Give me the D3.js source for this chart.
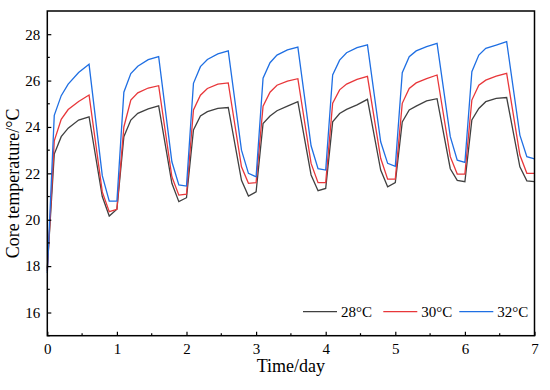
<!DOCTYPE html>
<html><head><meta charset="utf-8">
<script src="https://cdn.jsdelivr.net/npm/d3@7"></script>
<style>body{margin:0;background:#fff;} text{font-family:"Liberation Serif","Times New Roman",serif;}</style>
</head><body>
<svg id="c" width="550" height="390"></svg>
<script>
const times = [
  0,0.1,0.2,0.3,0.45,0.6,0.79,0.89,
  1,1.1,1.2,1.3,1.45,1.6,1.79,1.89,
  2,2.1,2.2,2.3,2.45,2.6,2.79,2.89,
  3,3.1,3.2,3.3,3.45,3.6,3.79,3.89,
  4,4.1,4.2,4.3,4.45,4.6,4.79,4.89,
  5,5.1,5.2,5.3,5.45,5.6,5.79,5.89,
  6,6.1,6.2,6.3,6.45,6.6,6.79,6.89,
  7];
const t28 = [
  17.9,22.83,23.58,23.95,24.3,24.44,21.0,20.16,
  20.45,23.58,24.3,24.59,24.78,24.91,21.57,20.78,
  20.95,23.87,24.47,24.66,24.8,24.84,21.7,21.02,
  21.2,24.15,24.47,24.7,24.9,25.09,21.93,21.25,
  21.35,24.22,24.58,24.76,24.95,25.19,22.14,21.42,
  21.6,24.22,24.73,24.9,25.12,25.22,22.2,21.7,
  21.64,24.3,24.8,25.09,25.23,25.27,22.28,21.68,
  21.64];
const t30 = [
  17.8,23.4,24.33,24.75,25.1,25.38,21.2,20.35,
  20.45,24.0,25.16,25.47,25.68,25.78,21.85,21.06,
  21.1,24.73,25.37,25.66,25.85,25.9,22.28,21.57,
  21.6,24.9,25.5,25.8,25.98,26.08,22.43,21.6,
  21.6,25.02,25.6,25.85,26.05,26.18,22.65,21.75,
  21.75,25.02,25.66,25.9,26.08,26.24,22.72,21.97,
  21.97,25.16,25.8,26.02,26.19,26.31,22.79,22.0,
  22.0];
const t32 = [
  17.7,24.5,25.35,25.85,26.35,26.7,21.9,20.8,
  20.8,25.5,26.3,26.62,26.9,27.03,22.5,21.5,
  21.45,25.88,26.6,26.91,27.15,27.28,23.0,22.0,
  21.85,26.1,26.77,27.1,27.32,27.44,23.19,22.2,
  22.14,26.24,26.88,27.2,27.42,27.54,23.36,22.43,
  22.3,26.34,27.03,27.28,27.46,27.6,23.58,22.57,
  22.47,26.38,27.1,27.39,27.53,27.68,23.65,22.72,
  22.62];
const seriesNames = ["28°C", "30°C", "32°C"];
const seriesColors = ["#404040", "#e8373a", "#1f6fe3"];
const seriesValues = [t28, t30, t32];
const xTicks = [0,1,2,3,4,5,6,7];
const yTicks = [16,18,20,22,24,26,28];

const svg = d3.select("#c");
const L = 47.3, R = 534.5, T = 11, B = 335.7;
const x = d3.scaleLinear().domain([0,7]).range([L,R]);
const y = d3.scaleLinear().domain([15,29]).range([B,T]);

const line = d3.line().x(d => x(d[0])).y(d => y(d[1]));
seriesValues.forEach((vals, i) => {
  svg.append("path")
    .datum(times.map((t, k) => [t, vals[k]]))
    .attr("d", line).attr("fill", "none")
    .attr("stroke", seriesColors[i]).attr("stroke-width", 1.3);
});

svg.append("rect").attr("x", L).attr("y", T).attr("width", R-L).attr("height", B-T)
  .attr("fill", "none").attr("stroke", "#000").attr("stroke-width", 1.5);

const xAxis = d3.axisBottom(x).tickValues(xTicks).tickFormat(d3.format("d")).tickSizeInner(-4).tickSizeOuter(0).tickPadding(8);
const gx = svg.append("g").attr("transform", `translate(0,${B})`).call(xAxis);
const yAxis = d3.axisLeft(y).tickValues(yTicks).tickFormat(d3.format("d")).tickSizeInner(-4).tickSizeOuter(0).tickPadding(7);
const gy = svg.append("g").attr("transform", `translate(${L},0)`).call(yAxis);
[gx, gy].forEach(g => {
  g.select(".domain").remove();
  g.selectAll("line").attr("stroke", "#000").attr("stroke-width", 1.2);
  g.selectAll("text").attr("font-size", 15).attr("fill", "#000")
    .attr("font-family", "Liberation Serif, Times New Roman, serif");
});
const xMinor = d3.range(0.5, 7, 1);
svg.append("g").selectAll("line").data(xMinor).join("line")
  .attr("x1", d => x(d)).attr("x2", d => x(d)).attr("y1", B).attr("y2", B-2.5)
  .attr("stroke", "#000").attr("stroke-width", 1.2);
const yMinor = [15,17,19,21,23,25,27];
svg.append("g").selectAll("line").data(yMinor).join("line")
  .attr("x1", L).attr("x2", L+2.5).attr("y1", d => y(d)).attr("y2", d => y(d))
  .attr("stroke", "#000").attr("stroke-width", 1.2);

svg.append("text").attr("x", (L+R)/2).attr("y", 372).attr("text-anchor", "middle")
  .attr("font-size", 18).text("Time/day");
svg.append("text").attr("transform", `translate(19,${(T+B)/2 + 10}) rotate(-90)`)
  .attr("text-anchor", "middle").attr("font-size", 18).text("Core temperature/°C");

const legX = [303, 383.3, 459.3];
const legY = 311.7;
seriesNames.forEach((n, i) => {
  svg.append("line").attr("x1", legX[i]).attr("x2", legX[i]+34).attr("y1", legY).attr("y2", legY)
    .attr("stroke", seriesColors[i]).attr("stroke-width", 1.2);
  svg.append("text").attr("x", legX[i]+38).attr("y", legY+5).attr("font-size", 15).text(n);
});
</script>
</body></html>
